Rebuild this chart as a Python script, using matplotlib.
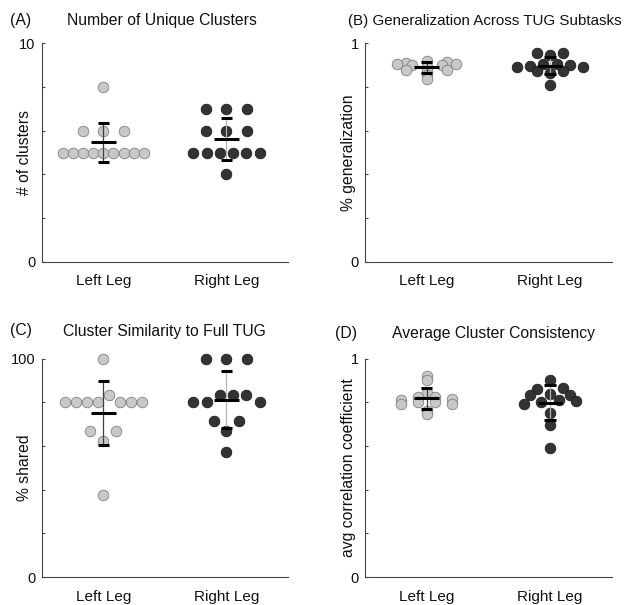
import numpy as np
import matplotlib.pyplot as plt

plt.rcParams['font.family'] = ['Liberation Sans', 'DejaVu Sans']
plt.rcParams['font.size'] = 10.5

groups = ['Left Leg', 'Right Leg']

# (A) number of unique clusters
clusters_left = [5, 5, 5, 5, 5, 5, 5, 5, 5, 6, 6, 6, 8]
clusters_right = [7, 7, 7, 6, 6, 6, 5, 5, 5, 5, 5, 5, 4]

# (B) generalization across TUG subtasks
gen_left = [0.911, 0.920, 0.913, 0.905, 0.900, 0.893, 0.900, 0.905,
            0.876, 0.872, 0.878, 0.855, 0.835]
gen_right = [0.954, 0.946, 0.954, 0.893, 0.897, 0.906, 0.906, 0.901, 0.893,
             0.875, 0.865, 0.872, 0.809]

# (C) cluster similarity to full TUG (% shared)
sim_left = [100, 80, 80, 80, 80, 83.3, 80, 80, 80, 66.7, 62.5, 66.7, 37.5]
sim_right = [100, 100, 100, 80, 80, 83.3, 83.3, 83.3, 80, 71.4, 66.7, 71.4, 57.1]

# (D) average cluster consistency
cons_left = [0.920, 0.905, 0.844, 0.811, 0.824, 0.824, 0.817,
             0.791, 0.803, 0.803, 0.794, 0.760, 0.745]
cons_right = [0.902, 0.862, 0.867, 0.832, 0.838, 0.835,
              0.791, 0.803, 0.809, 0.806, 0.753, 0.695, 0.592]

panels = [
    ('(A)', 'Number of Unique Clusters', '# of clusters', 10, clusters_left, clusters_right, 1.0, 0.5),
    ('', '(B) Generalization Across TUG Subtasks', '% generalization', 1, gen_left, gen_right, 0.02, 0.01),
    ('(C)', 'Cluster Similarity to Full TUG', '% shared', 100, sim_left, sim_right, 5.0, 0.0),
    ('(D)', 'Average Cluster Consistency', 'avg correlation coefficient', 1, cons_left, cons_right, 0.02, 0.01),
]

light = '#c8c8c8'
dark = '#333333'
txt = '#111111'


def spread(vals, bw, off, k=0.3):
    # plotSpread-like: points falling in the same bin are spread sideways
    vals = np.asarray(vals, float)
    bins = np.floor((vals - off) / bw + 1e-9).astype(int)
    xo = np.zeros(len(vals))
    for b in np.unique(bins):
        idx = np.where(bins == b)[0]
        n = len(idx)
        if n > 1:
            w = k * np.log(n)
            xo[idx] = np.linspace(-w / 2, w / 2, n)
    return xo


fig = plt.figure(figsize=(6.24, 6.05), dpi=100)
rects = [
    [0.0668, 0.5674, 0.3947, 0.361],
    [0.585, 0.5674, 0.3953, 0.361],
    [0.0668, 0.046, 0.3947, 0.361],
    [0.585, 0.046, 0.3953, 0.361],
]
title_pads = [13, 13, 16.5, 15]
title_x = [0.49, 0.484, 0.5, 0.521]
title_size = [11.3, 10.9, 11.3, 11.3]
tag_pos = [(-0.129, 1.084), None, (-0.129, 1.107), (-0.122, 1.096)]

for i, (tag, title, ylab, top, left, right, bw, off) in enumerate(panels):
    ax = fig.add_axes(rects[i])
    for x, vals, fc, ec, vcol in [(1, left, light, '#808080', '#404040'),
                                  (2, right, dark, '#1e1e1e', '#b4b4b4')]:
        vals = np.asarray(vals, float)
        xs = x + spread(vals, bw, off)
        ax.scatter(xs, vals, s=58, c=fc, edgecolors=ec, linewidths=0.6,
                   zorder=2, clip_on=False)
        m = vals.mean()
        sd = vals.std(ddof=1)
        ax.plot([x, x], [m - sd, m + sd], color=vcol, lw=0.9, zorder=3)
        ax.plot([x - 0.1, x + 0.1], [m, m], color='k', lw=2.2, zorder=4,
                solid_capstyle='butt')
        for yy in (m - sd, m + sd):
            ax.plot([x - 0.045, x + 0.045], [yy, yy], color='k', lw=2.2, zorder=4,
                    solid_capstyle='butt')

    ax.set_xlim(0.5, 2.5)
    ax.set_ylim(0, top)
    ax.set_xticks([1, 2])
    ax.set_xticklabels(groups, fontsize=11)
    yt = np.linspace(0, top, 6)
    ax.set_yticks(yt)
    ax.set_yticklabels([f'{top:g}' if j == 5 else ('0' if j == 0 else '') for j in range(6)],
                       fontsize=10.5)
    ax.tick_params(axis='y', direction='in', length=2.5, width=0.8, colors='#444444',
                   labelcolor=txt, pad=4.5)
    ax.tick_params(axis='x', length=0, pad=9, labelcolor=txt)
    for s in ('top', 'right'):
        ax.spines[s].set_visible(False)
    for s in ('left', 'bottom'):
        ax.spines[s].set_color('#444444')
        ax.spines[s].set_linewidth(0.8)
    ax.set_ylabel(ylab, color=txt, fontsize=11.3)
    ax.yaxis.set_label_coords(-0.038, 0.5)
    ax.set_title(title, pad=title_pads[i], x=title_x[i], color=txt, fontsize=title_size[i])
    if tag:
        ax.text(tag_pos[i][0], tag_pos[i][1], tag, transform=ax.transAxes,
                va='baseline', ha='left', color=txt, fontsize=11.3)

fig.savefig('out.png', dpi=100)
